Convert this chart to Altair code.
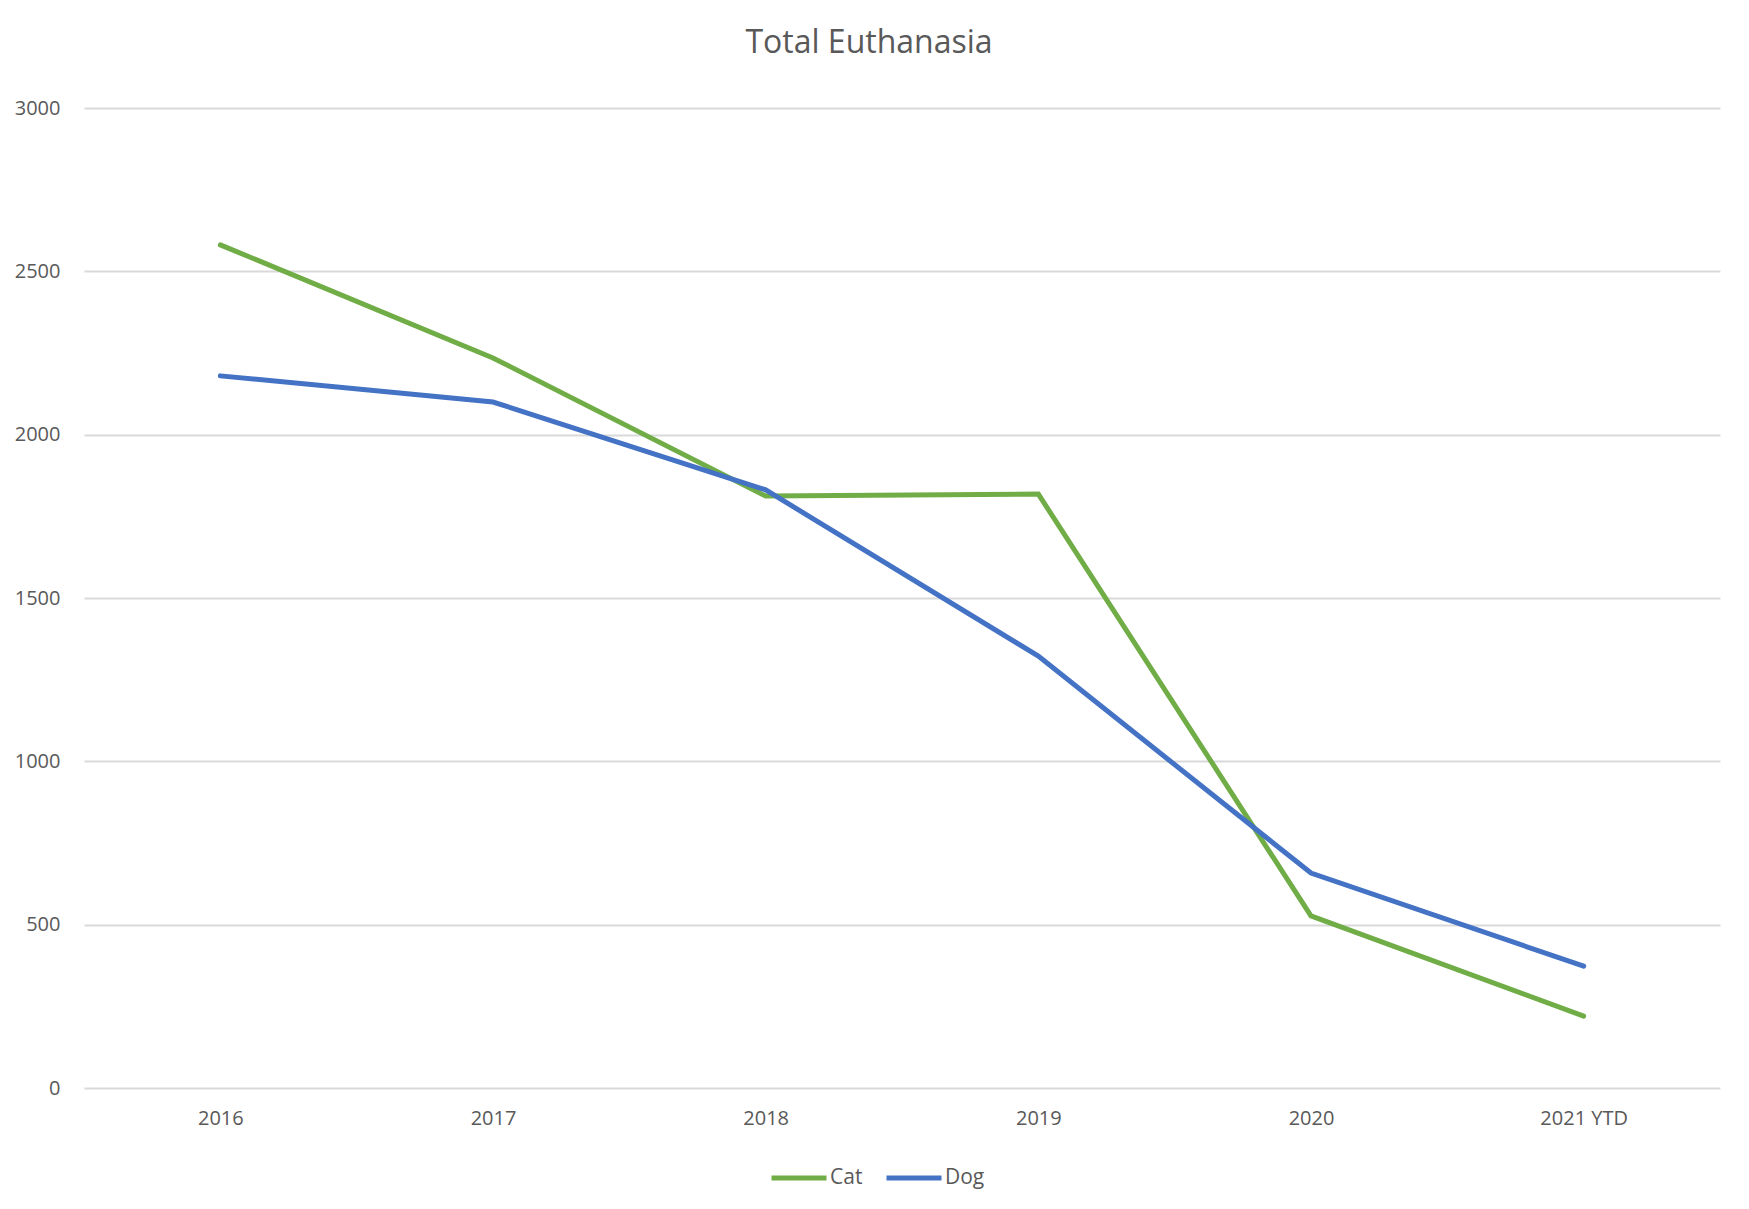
import altair as alt
import pandas as pd

years = ["2016", "2017", "2018", "2019", "2020", "2021 YTD"]
cat_values = [2581, 2235, 1812, 1818, 527, 220]
dog_values = [2180, 2100, 1831, 1322, 658, 373]
series_names = ["Cat", "Dog"]
series_colors = ["#70AD47", "#4472C4"]
y_ticks = [0, 500, 1000, 1500, 2000, 2500, 3000]

rows = []
for y, c, d in zip(years, cat_values, dog_values):
    rows.append({"Year": y, "Series": "Cat", "Value": c})
    rows.append({"Year": y, "Series": "Dog", "Value": d})
df = pd.DataFrame(rows)

FONT = "Open Sans"
TXT = "#595959"

chart = (
    alt.Chart(df)
    .mark_line(strokeWidth=5, strokeCap="round", strokeJoin="miter")
    .encode(
        x=alt.X(
            "Year:N",
            sort=years,
            scale=alt.Scale(type="point", padding=0.5),
            axis=alt.Axis(
                title=None,
                labelAngle=0,
                ticks=False,
                domain=False,
                grid=False,
                labelFontSize=20,
                labelColor=TXT,
                labelFont=FONT,
                labelPadding=20,
            ),
        ),
        y=alt.Y(
            "Value:Q",
            scale=alt.Scale(domain=[0, 3000], nice=False),
            axis=alt.Axis(
                title=None,
                values=y_ticks,
                format="d",
                ticks=False,
                domain=False,
                grid=True,
                gridColor="#D9D9D9",
                gridWidth=2,
                labelFontSize=20,
                labelColor=TXT,
                labelFont=FONT,
                labelPadding=24,
            ),
        ),
        color=alt.Color(
            "Series:N",
            sort=series_names,
            scale=alt.Scale(domain=series_names, range=series_colors),
            legend=alt.Legend(
                title=None,
                orient="none",
                direction="horizontal",
                legendX=685,
                legendY=1040,
                symbolType="stroke",
                symbolSize=3025,
                symbolStrokeWidth=5,
                labelFontSize=21,
                labelColor=TXT,
                labelFont=FONT,
                labelOffset=1,
                columnPadding=13,
            ),
        ),
    )
    .properties(
        width=1636,
        height=980,
        background="white",
        title=alt.TitleParams(
            "Total Euthanasia",
            fontSize=32,
            font=FONT,
            fontWeight="normal",
            color=TXT,
            anchor="middle",
            dx=-33,
            offset=38,
        ),
        autosize=alt.AutoSizeParams(type="none"),
        padding={"left": 76, "top": 100, "right": 17, "bottom": 113},
    )
    .configure_view(strokeWidth=0, stroke="transparent")
)

chart.save("out.html", embed_options={"renderer": "svg", "actions": False})
